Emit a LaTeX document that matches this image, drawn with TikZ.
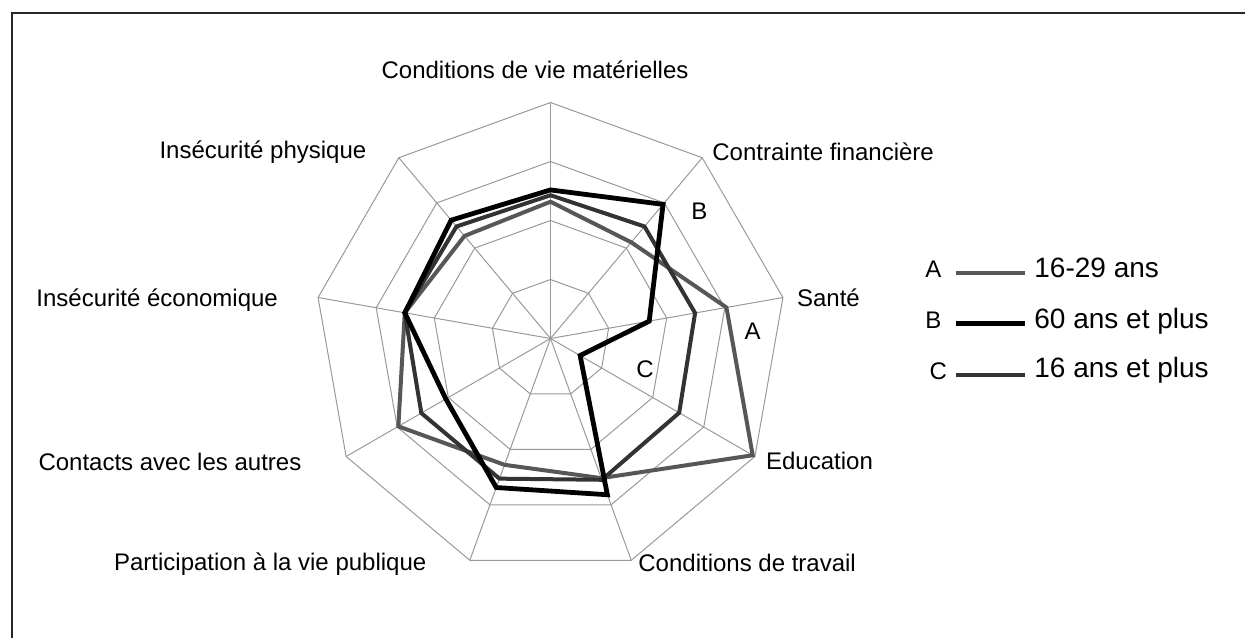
\documentclass[tikz,border=0pt]{standalone}
\usepackage{fontspec}
\setmainfont{Liberation Sans}
\usetikzlibrary{positioning}

\tikzset{
  gridline/.style={draw=black!40, line width=0.5pt},
  axislabel/.style={inner sep=0pt, font=\fontsize{12}{14}\selectfont},
  serieskey/.style={inner sep=0pt, font=\fontsize{12}{14}\selectfont},
  legendtext/.style={inner sep=0pt, anchor=west, font=\fontsize{14}{16}\selectfont},
  lineA/.style={draw=black!66, line width=2pt, line join=miter},
  lineB/.style={draw=black, line width=2.4pt, line join=miter},
  lineC/.style={draw=black!80, line width=2pt, line join=miter},
}

\begin{document}
\begin{tikzpicture}[x=0.5pt, y=0.5pt]
  \useasboundingbox (0,0) rectangle (1245,638);
  \draw[draw=black!85, line width=0.8pt] (12,0) -- (12,624.7) -- (1245,624.7);

  \begin{scope}[shift={(550.5,299.5)}, scale=59]
    % web of the radar
    \foreach \k in {1,...,4}
      \draw[gridline] (90:\k) \foreach \i in {1,...,8} { -- ({90-40*\i}:\k) } -- cycle;
    \foreach \i in {0,...,8}
      \draw[gridline] (0,0) -- ({90-40*\i}:4);

    \foreach \v [count=\i from 0] in {2.32,2.13,3.03,3.96,2.52,2.28,2.98,2.51,2.27}
      \coordinate (A\i) at ({90-40*\i}:\v);
    \foreach \v [count=\i from 0] in {2.52,2.97,1.70,0.58,2.82,2.69,2.05,2.51,2.62}
      \coordinate (B\i) at ({90-40*\i}:\v);
    \foreach \v [count=\i from 0] in {2.43,2.48,2.49,2.52,2.55,2.53,2.53,2.51,2.48}
      \coordinate (C\i) at ({90-40*\i}:\v);

    \draw[lineA] (A0) \foreach \i in {1,...,8} { -- (A\i) } -- cycle;
    \draw[lineC] (C0) \foreach \i in {1,...,8} { -- (C\i) } -- cycle;
    \draw[lineB] (B0) \foreach \i in {1,...,8} { -- (B\i) } -- cycle;
  \end{scope}

  \node[axislabel] (cvm) at (535,568) {Conditions de vie matérielles};
  \node[axislabel, anchor=west] (contrainte) at (712,486.3) {Contrainte financière};
  \node[axislabel, anchor=west] (sante) at (796.7,340) {Santé};
  \node[axislabel, anchor=west] (education) at (765.7,177) {Education};
  \node[axislabel, anchor=west] (travail) at (638,75) {Conditions de travail};
  \node[axislabel, anchor=east] (participation) at (426.7,74) {Participation à la vie publique};
  \node[axislabel, anchor=east] (contacts) at (301.7,176.3) {Contacts avec les autres};
  \node[axislabel, anchor=east] (ieco) at (278.3,338) {Insécurité économique};
  \node[axislabel, anchor=east] (iphys) at (366.7,486.3) {Insécurité physique};

  \node[serieskey] (inB) at (699.3,426.3) {B};
  \node[serieskey] (inA) at (752.7,306.3) {A};
  \node[serieskey] (inC) at (645,268.7) {C};

  % legend
  \node[serieskey] (keyA) at (933.3,368.7) {A};
  \node[serieskey] (keyB) at (933.3,318) {B};
  \node[serieskey] (keyC) at (938.3,266.3) {C};
  \coordinate (la1) at (956,364.7);  \coordinate (la2) at (1025,364.7);
  \coordinate (lb1) at (956,314.7);  \coordinate (lb2) at (1025,314.7);
  \coordinate (lc1) at (956,263);    \coordinate (lc2) at (1025,263);
  \draw[lineA] (la1) -- (la2);
  \draw[lineB] (lb1) -- (lb2);
  \draw[lineC] (lc1) -- (lc2);
  \node[legendtext] (txtA) at (1034,369.7) {16-29 ans};
  \node[legendtext] (txtB) at (1034,317) {60 ans et plus};
  \node[legendtext] (txtC) at (1034,267.3) {16 ans et plus};
\end{tikzpicture}
\end{document}
